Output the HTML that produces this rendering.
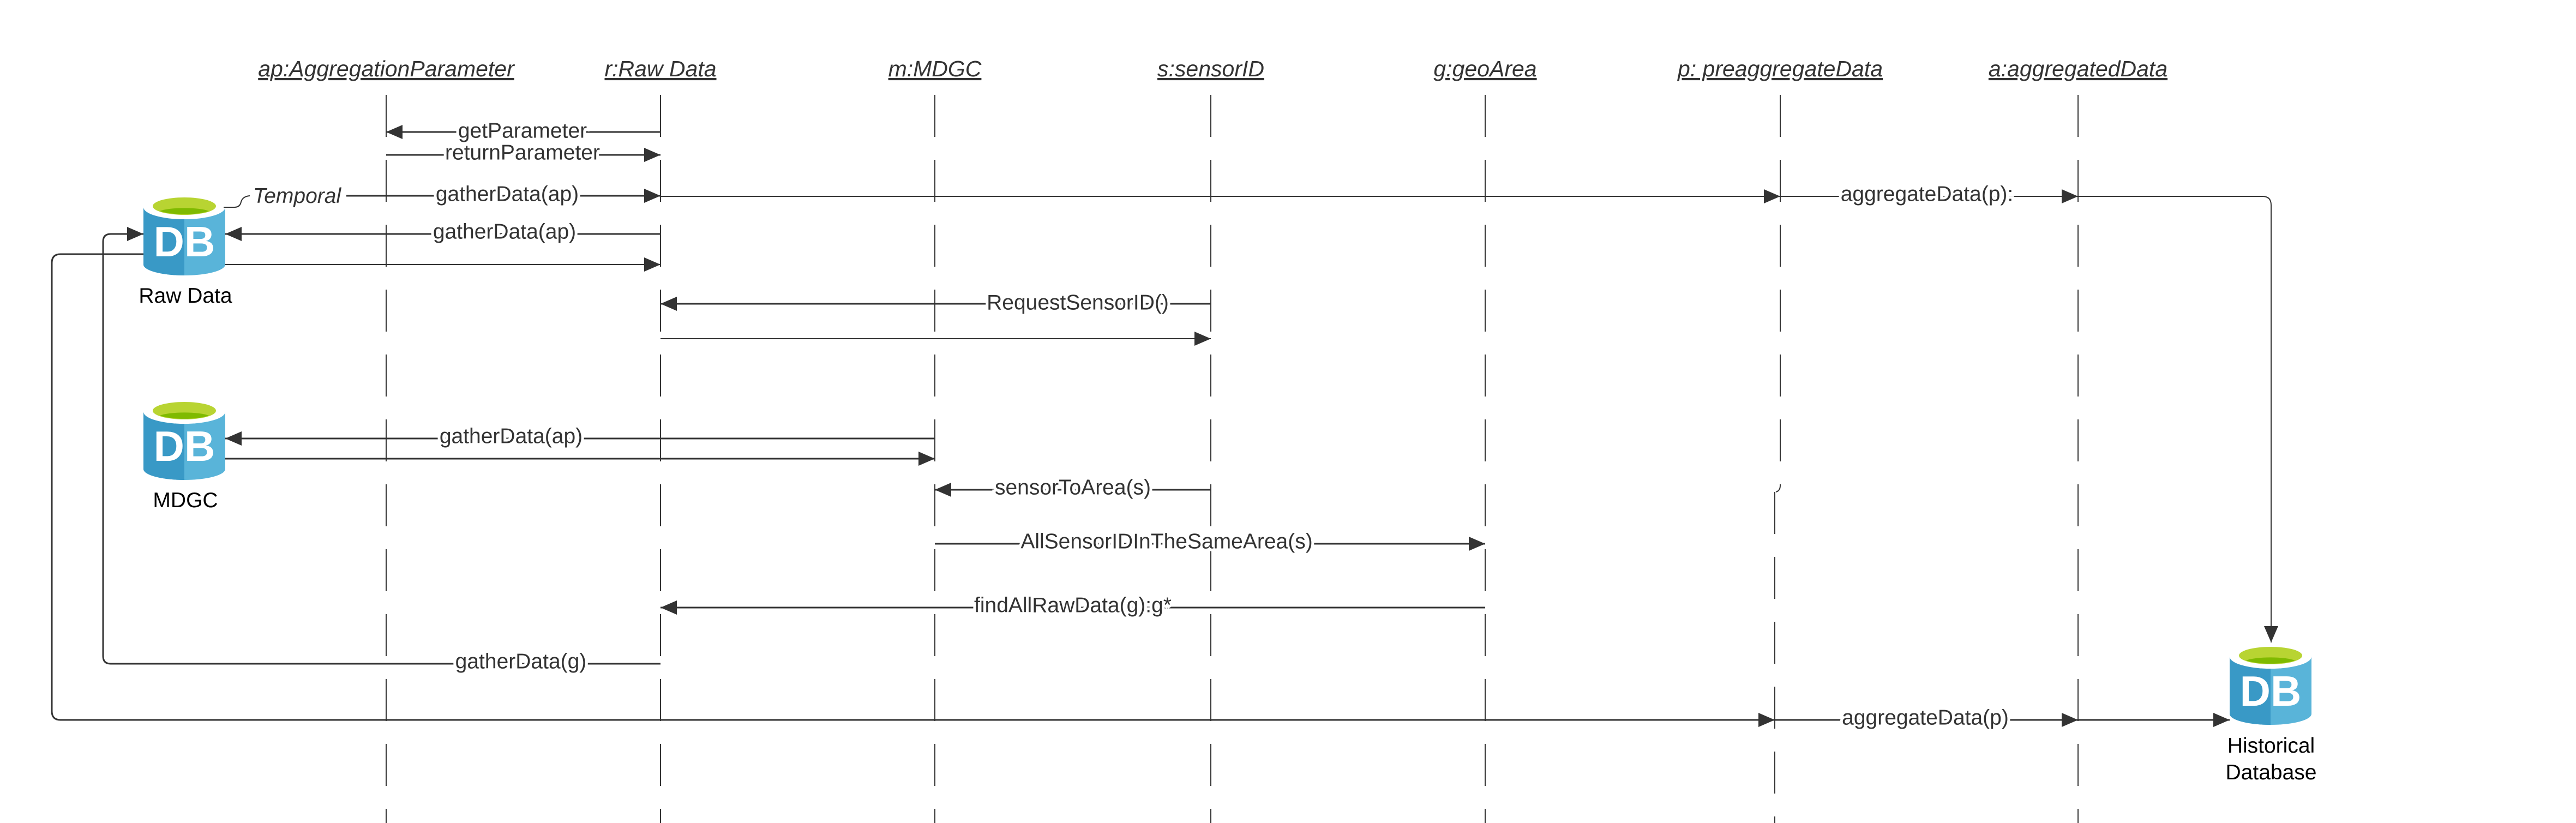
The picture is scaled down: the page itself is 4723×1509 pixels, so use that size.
<!DOCTYPE html>
<html><head><meta charset="utf-8"><style>
html,body{margin:0;padding:0;background:#fff;}
svg{display:block;}
text{font-family:"Liberation Sans",sans-serif;fill:#333;}
.lbl{font-size:39px;text-anchor:middle;dominant-baseline:central;stroke:#fff;stroke-width:10px;paint-order:stroke;}
.ttl{font-size:41px;font-style:italic;text-anchor:middle;text-decoration:underline;}
.ln{stroke:#333;stroke-width:3;fill:none;}
.life{stroke:#333;stroke-width:2;stroke-dasharray:77 42;fill:none;}
</style></head><body>
<svg width="4723" height="1509" viewBox="0 0 4723 1509" xmlns="http://www.w3.org/2000/svg">
<defs>
<marker id="ar" markerUnits="userSpaceOnUse" markerWidth="30" markerHeight="26" refX="30" refY="13" orient="auto">
<path d="M0,0 L30,13 L0,26 Z" fill="#333"/>
</marker>
<g id="db">
<path d="M0,20 L0,125 A75,20 0 0 0 150,125 L150,20 Z" fill="#59b4d9"/>
<path d="M0,20 L0,125 A75,20 0 0 0 75,145 L75,20 Z" fill="#3999c6"/>
<ellipse cx="75" cy="20" rx="75" ry="22" fill="#fff"/>
<ellipse cx="75" cy="18" rx="58" ry="16" fill="#b8d432"/>
<path d="M30,27 A50,10 0 0 1 120,27 A58,16 0 0 1 30,27 Z" fill="#7fba00"/>
<text x="75" y="110" text-anchor="middle" style="font-size:78px;font-weight:bold;fill:#fff;">DB</text>
</g>
</defs>

<!-- titles -->
<text class="ttl" x="708" y="140">ap:AggregationParameter</text>
<text class="ttl" x="1211" y="140">r:Raw Data</text>
<text class="ttl" x="1714" y="140">m:MDGC</text>
<text class="ttl" x="2220" y="140">s:sensorID</text>
<text class="ttl" x="2723" y="140">g:geoArea</text>
<text class="ttl" x="3264" y="140">p: preaggregateData</text>
<text class="ttl" x="3810" y="140">a:aggregatedData</text>

<!-- lifelines -->
<line class="life" x1="708" y1="174" x2="708" y2="1509"/>
<line class="life" x1="1211" y1="174" x2="1211" y2="1509"/>
<line class="life" x1="1714" y1="174" x2="1714" y2="1509"/>
<line class="life" x1="2220" y1="174" x2="2220" y2="1509"/>
<line class="life" x1="2723" y1="174" x2="2723" y2="1509"/>
<line class="life" x1="3264" y1="174" x2="3264" y2="890"/>
<path class="ln" style="stroke-width:2" d="M3264,890 Q3264,900 3256,902"/>
<line class="life" x1="3254" y1="902" x2="3254" y2="1509"/>
<line class="life" x1="3810" y1="174" x2="3810" y2="1509"/>

<!-- DBs -->
<use href="#db" x="263" y="360"/>
<use href="#db" x="263" y="735"/>
<use href="#db" x="4088" y="1184"/>
<text x="340" y="555" text-anchor="middle" style="font-size:39px;fill:#000;">Raw Data</text>
<text x="340" y="930" text-anchor="middle" style="font-size:39px;fill:#000;">MDGC</text>
<text x="4164" y="1380" text-anchor="middle" style="font-size:39px;fill:#000;">Historical</text>
<text x="4164" y="1429" text-anchor="middle" style="font-size:39px;fill:#000;">Database</text>

<!-- messages -->
<line class="ln" x1="1211" y1="242" x2="708" y2="242" marker-end="url(#ar)"/>
<text class="lbl" x="958" y="240">getParameter</text>
<line class="ln" x1="708" y1="284" x2="1211" y2="284" marker-end="url(#ar)"/>
<text class="lbl" x="958" y="280">returnParameter</text>

<path class="ln" style="stroke-width:2" d="M410,380 L430,380 Q440,380 442,370 Q445,360 458,359"/>
<text x="464" y="372" style="font-size:39px;font-style:italic;">Temporal</text>
<line class="ln" x1="635" y1="359" x2="1211" y2="359" marker-end="url(#ar)"/>
<text class="lbl" x="930" y="356">gatherData(ap)</text>
<line class="ln" style="stroke-width:2" x1="1211" y1="360" x2="3264" y2="360" marker-end="url(#ar)"/>
<line class="ln" style="stroke-width:2" x1="3264" y1="360" x2="3810" y2="360" marker-end="url(#ar)"/>
<text class="lbl" x="3533" y="356">aggregateData(p):</text>
<path class="ln" style="stroke-width:2" d="M3810,360 L4148,360 Q4164,360 4164,376 L4164,1178" marker-end="url(#ar)"/>

<line class="ln" x1="1211" y1="429" x2="413" y2="429" marker-end="url(#ar)"/>
<text class="lbl" x="925" y="425">gatherData(ap)</text>
<line class="ln" style="stroke-width:2" x1="413" y1="485" x2="1211" y2="485" marker-end="url(#ar)"/>

<line class="ln" x1="2220" y1="557" x2="1211" y2="557" marker-end="url(#ar)"/>
<text class="lbl" x="1976" y="555">RequestSensorID()</text>
<line class="ln" style="stroke-width:2" x1="1211" y1="621" x2="2220" y2="621" marker-end="url(#ar)"/>

<line class="ln" x1="1714" y1="804" x2="413" y2="804" marker-end="url(#ar)"/>
<text class="lbl" x="937" y="800">gatherData(ap)</text>
<line class="ln" x1="413" y1="841" x2="1714" y2="841" marker-end="url(#ar)"/>

<line class="ln" x1="2220" y1="898" x2="1714" y2="898" marker-end="url(#ar)"/>
<text class="lbl" x="1967" y="894">sensorToArea(s)</text>
<line class="ln" x1="1714" y1="997" x2="2723" y2="997" marker-end="url(#ar)"/>
<text class="lbl" x="2139" y="993">AllSensorIDInTheSameArea(s)</text>
<line class="ln" x1="2723" y1="1114" x2="1211" y2="1114" marker-end="url(#ar)"/>
<text class="lbl" x="1967" y="1110">findAllRawData(g):g*</text>

<path class="ln" d="M1211,1217 L203,1217 Q189,1217 189,1203 L189,443 Q189,429 203,429 L263,429" marker-end="url(#ar)"/>
<text class="lbl" x="955" y="1213">gatherData(g)</text>

<path class="ln" d="M263,466 L111,466 Q95,466 95,482 L95,1304 Q95,1320 111,1320 L3254,1320" marker-end="url(#ar)"/>
<line class="ln" x1="3254" y1="1320" x2="3810" y2="1320" marker-end="url(#ar)"/>
<text class="lbl" x="3530" y="1316">aggregateData(p)</text>
<line class="ln" x1="3810" y1="1320" x2="4088" y2="1320" marker-end="url(#ar)"/>
</svg>
</body></html>
